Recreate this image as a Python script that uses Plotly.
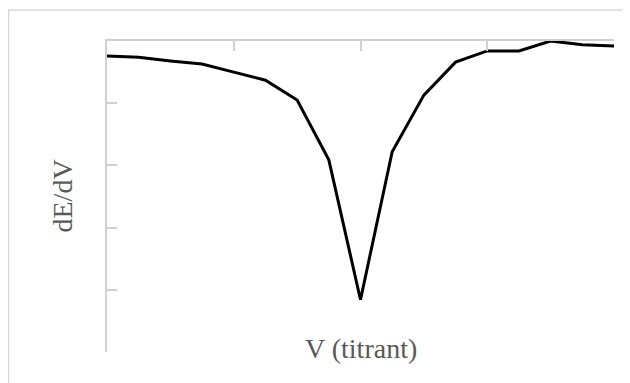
import plotly.graph_objects as go

# titrant volume steps (axis labels are hidden in the original)
volume = list(range(17))
# first derivative dE/dV
dE_dV = [-0.024, -0.026, -0.032, -0.037, -0.050, -0.063, -0.095, -0.191, -0.416,
         -0.178, -0.087, -0.034, -0.016, -0.016, 0.0, -0.006, -0.008]

axis_grey = "#d0d0d0"
text_grey = "#595959"
serif = "Liberation Serif, Times New Roman, serif"

fig = go.Figure()
fig.add_trace(go.Scatter(
    x=volume, y=dE_dV, mode="lines",
    line=dict(color="black", width=3),
    showlegend=False,
))

# page body adds an 8px margin, so the figure is sized 8px smaller
fig.update_layout(
    width=622, height=375,
    margin=dict(l=99, r=16, t=33, b=31),
    plot_bgcolor="white", paper_bgcolor="white",
    font=dict(family=serif, color=text_grey),
)
fig.update_xaxes(
    range=[0, 16], dtick=4, side="top",
    showgrid=False, zeroline=False, showticklabels=False,
    showline=True, linecolor=axis_grey, linewidth=2,
    ticks="inside", ticklen=10, tickcolor=axis_grey, tickwidth=2,
)
fig.update_yaxes(
    range=[-0.5, 0], dtick=0.1,
    showgrid=False, zeroline=False, showticklabels=False,
    showline=True, linecolor=axis_grey, linewidth=2,
    ticks="inside", ticklen=10, tickcolor=axis_grey, tickwidth=2,
)
fig.add_annotation(
    text="dE/dV", xref="paper", yref="paper", x=(54 - 99) / 507, y=0.5,
    xanchor="center", yanchor="middle", textangle=-90, showarrow=False,
    font=dict(size=28, color=text_grey, family=serif),
)
fig.add_annotation(
    text="V (titrant)", xref="paper", yref="paper", x=0.5, y=0.012,
    xanchor="center", yanchor="middle", showarrow=False,
    font=dict(size=28, color=text_grey, family=serif),
)
# outer chart-area border (only top and left edges fall inside the window)
fig.add_shape(
    type="rect", xref="paper", yref="paper",
    x0=(0.5 - 99) / 507, x1=1.2, y0=-0.5, y1=(344 - 2) / 311,
    line=dict(color="#d9d9d9", width=1.5),
)

fig.write_html("out.html")
